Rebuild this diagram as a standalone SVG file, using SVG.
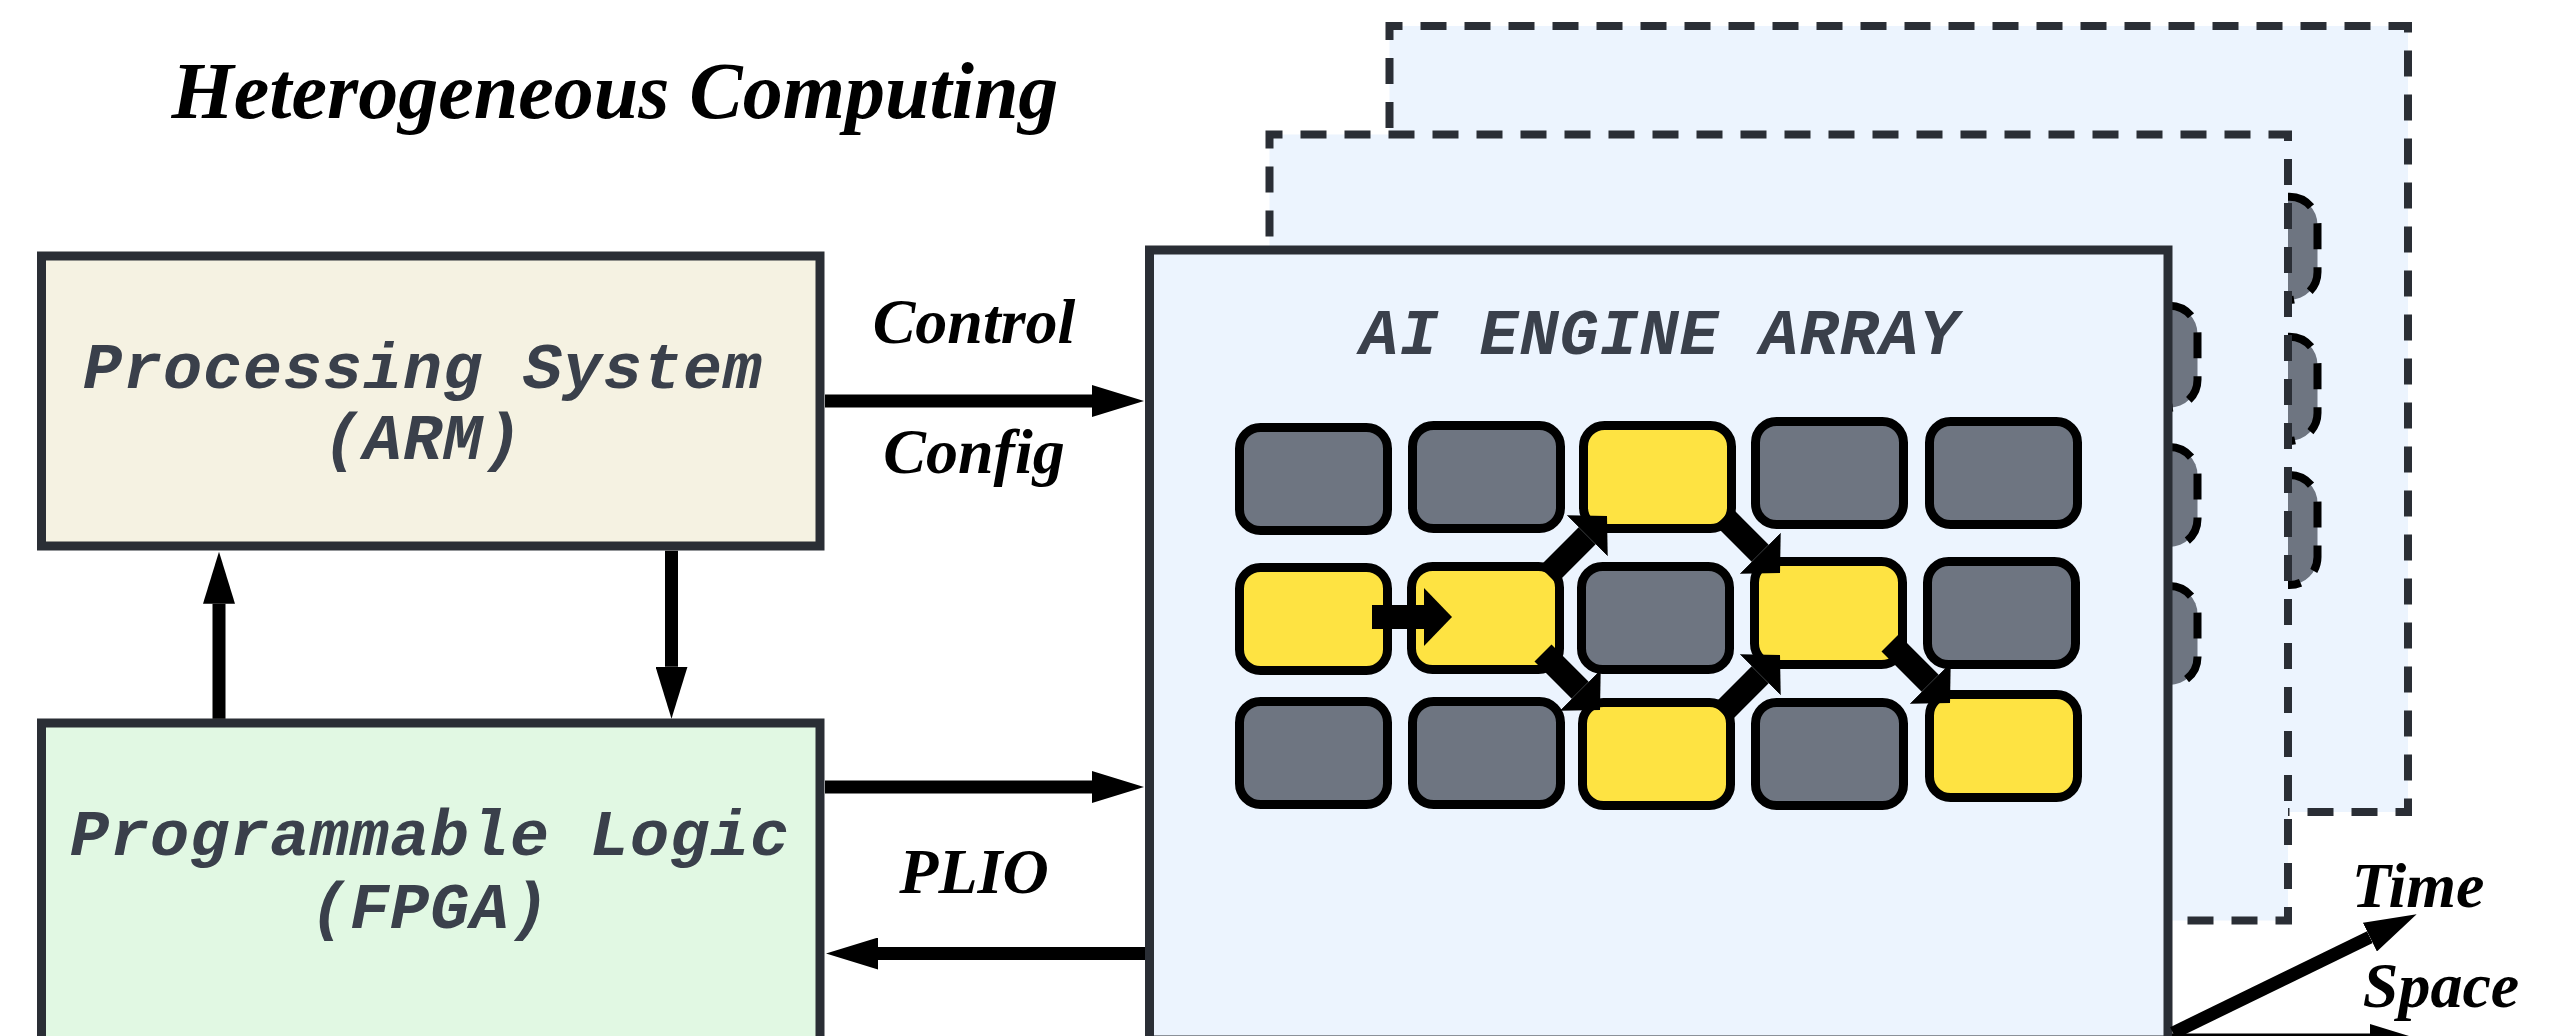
<svg xmlns="http://www.w3.org/2000/svg" width="2568" height="1036" viewBox="0 0 2568 1036">
  <defs>
    <style>
      .title { font-family: "Liberation Serif", "Times New Roman", serif; font-weight: bold; font-style: italic; fill: #000; }
      .mono { font-family: "Liberation Mono", "Courier New", monospace; font-weight: bold; font-style: italic; font-size: 65px; fill: #3a404b; text-anchor: middle; letter-spacing: 1px; }
      .lbl { font-family: "Liberation Serif", "Times New Roman", serif; font-weight: bold; font-style: italic; font-size: 64px; fill: #000; text-anchor: middle; }
      .box { stroke: #2a2e35; stroke-width: 9; }
      .layer { fill: #ecf4fe; stroke: #2a2e35; stroke-width: 8; stroke-dasharray: 26 18; stroke-dashoffset: 13; }
      .tab { fill: #6e7581; stroke: #000; stroke-width: 8; stroke-dasharray: 26 18; }
      .tile { stroke: #000; stroke-width: 9; }
      .idle { fill: #6e7581; }
      .busy { fill: #fee342; }
      .wire { stroke: #000; stroke-width: 13; fill: none; marker-end: url(#head); }
      .flow { stroke: #000; stroke-width: 24; fill: none; marker-end: url(#flowHead); }
    </style>
    <marker id="head" markerUnits="userSpaceOnUse" viewBox="0 0 52 32" markerWidth="52" markerHeight="32" refX="0" refY="16" orient="auto">
      <path d="M0,0 L52,16 L0,32 Z" fill="#000"/>
    </marker>
    <marker id="flowHead" markerUnits="userSpaceOnUse" viewBox="0 0 28 58" markerWidth="28" markerHeight="58" refX="0" refY="29" orient="auto">
      <path d="M0,0 L28,29 L0,58 Z" fill="#000"/>
    </marker>
  </defs>

  <rect x="0" y="0" width="2568" height="1036" fill="#fff"/>

  <text class="title" x="615" y="118" font-size="80" text-anchor="middle">Heterogeneous Computing</text>

  <!-- stacked AI engine layers (time dimension) -->
  <g id="layer-back">
    <rect class="layer" x="1389.5" y="26" width="1018.5" height="786"/>
    <path class="tab" d="M2288,196.7 h1.5 a28,28 0 0 1 28,28 V272 a28,28 0 0 1 -28,28 h-1.5"/>
    <path class="tab" d="M2288,336.7 h1.5 a28,28 0 0 1 28,28 V413 a28,28 0 0 1 -28,28 h-1.5"/>
    <path class="tab" d="M2288,475 h1.5 a28,28 0 0 1 28,28 V557 a28,28 0 0 1 -28,28 h-1.5"/>
  </g>

  <g id="layer-middle">
    <rect class="layer" x="1269.5" y="134.5" width="1018.5" height="786"/>
    <path class="tab" d="M2168,305.7 h1.5 a28,28 0 0 1 28,28 V379.7 a28,28 0 0 1 -28,28 h-1.5"/>
    <path class="tab" d="M2168,447 h1.5 a28,28 0 0 1 28,28 V519 a28,28 0 0 1 -28,28 h-1.5"/>
    <path class="tab" d="M2168,586 h1.5 a28,28 0 0 1 28,28 V657 a28,28 0 0 1 -28,28 h-1.5"/>
  </g>

  <g id="ai-engine-array">
    <rect class="box" x="1149.5" y="250" width="1018.5" height="790" fill="#ecf4fe"/>
    <text class="mono" x="1659.5" y="354">AI ENGINE ARRAY</text>
    <g id="tiles">
      <rect class="tile idle" x="1239.5" y="427.5" width="148" height="103" rx="21"/>
      <rect class="tile idle" x="1412.5" y="425.5" width="148" height="103" rx="21"/>
      <rect class="tile busy" x="1583.5" y="425.5" width="148" height="103" rx="21"/>
      <rect class="tile idle" x="1755.5" y="421.5" width="148" height="103" rx="21"/>
      <rect class="tile idle" x="1929.5" y="421.5" width="148" height="103" rx="21"/>

      <rect class="tile busy" x="1239.5" y="567.5" width="148" height="103" rx="21"/>
      <rect class="tile busy" x="1411.5" y="566.5" width="148" height="103" rx="21"/>
      <rect class="tile idle" x="1581.5" y="566.5" width="148" height="103" rx="21"/>
      <rect class="tile busy" x="1754.5" y="561.5" width="148" height="103" rx="21"/>
      <rect class="tile idle" x="1927.5" y="561.5" width="148" height="103" rx="21"/>

      <rect class="tile idle" x="1239.5" y="701.5" width="148" height="103" rx="21"/>
      <rect class="tile idle" x="1412.5" y="701.5" width="148" height="103" rx="21"/>
      <rect class="tile busy" x="1582.5" y="702.5" width="148" height="103" rx="21"/>
      <rect class="tile idle" x="1755.5" y="702.5" width="148" height="103" rx="21"/>
      <rect class="tile busy" x="1929.5" y="694.5" width="148" height="103" rx="21"/>
    </g>
    <g id="dataflow">
      <line class="flow" x1="1372" y1="617" x2="1424" y2="617"/>
      <line class="flow" x1="1548" y1="575" x2="1587.2" y2="535.8"/>
      <line class="flow" x1="1543" y1="653" x2="1580.2" y2="690.2"/>
      <line class="flow" x1="1724" y1="517" x2="1760.2" y2="553.2"/>
      <line class="flow" x1="1722" y1="713" x2="1760.2" y2="674.8"/>
      <line class="flow" x1="1890" y1="643" x2="1930.2" y2="683.2"/>
    </g>
  </g>

  <g id="processing-system">
    <rect class="box" x="41.5" y="256" width="778.5" height="290" fill="#f5f2e2"/>
    <text class="mono" x="423" y="387.5">Processing System</text>
    <text class="mono" x="423" y="459">(ARM)</text>
  </g>

  <g id="programmable-logic">
    <rect class="box" x="41.5" y="723" width="778.5" height="320" fill="#e1f8e3"/>
    <text class="mono" x="430" y="855">Programmable Logic</text>
    <text class="mono" x="430" y="928">(FPGA)</text>
  </g>

  <g id="connectors">
    <line class="wire" x1="825" y1="401" x2="1092" y2="401"/>
    <line class="wire" x1="825" y1="787" x2="1092" y2="787"/>
    <line class="wire" x1="1145" y1="953.5" x2="878" y2="953.5"/>
    <line class="wire" x1="219" y1="718.7" x2="219" y2="603.7"/>
    <line class="wire" x1="671.5" y1="550.7" x2="671.5" y2="666.7"/>
    <line class="wire" x1="2173" y1="1033" x2="2369.9" y2="937.1"/>
    <line class="wire" x1="2172" y1="1040" x2="2370" y2="1040"/>
  </g>

  <g id="labels">
    <text class="lbl" x="974" y="343">Control</text>
    <text class="lbl" x="974" y="473">Config</text>
    <text class="lbl" x="974" y="893">PLIO</text>
    <text class="lbl" x="2418" y="907" font-size="62">Time</text>
    <text class="lbl" x="2441" y="1007" font-size="63">Space</text>
  </g>
</svg>
